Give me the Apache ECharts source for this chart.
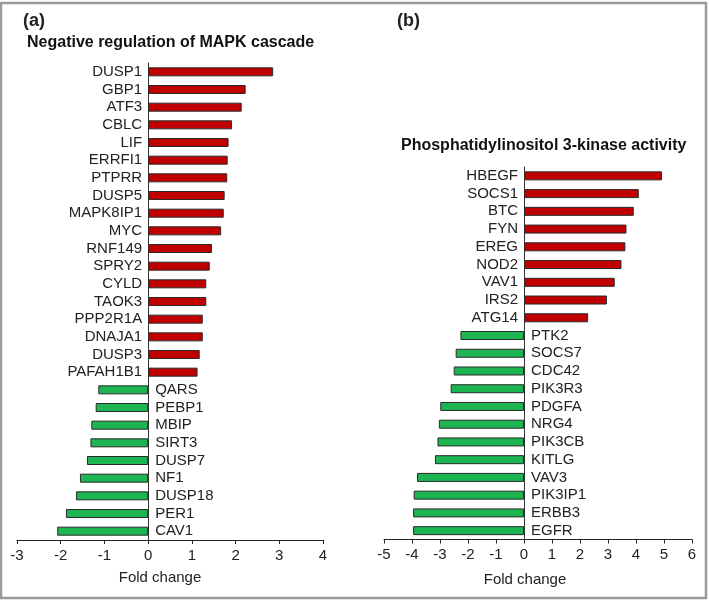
<!DOCTYPE html>
<html>
<head>
<meta charset="utf-8">
<script src="https://cdn.jsdelivr.net/npm/echarts@6/dist/echarts.min.js"></script>
<style>
html,body{margin:0;padding:0;background:#fff;}
#c{width:709px;height:600px;}
</style>
</head>
<body>
<div id="c"></div>
<script>
// Panel (a): Negative regulation of MAPK cascade
const genesA = ["DUSP1","GBP1","ATF3","CBLC","LIF","ERRFI1","PTPRR","DUSP5","MAPK8IP1","MYC","RNF149","SPRY2","CYLD","TAOK3","PPP2R1A","DNAJA1","DUSP3","PAFAH1B1","QARS","PEBP1","MBIP","SIRT3","DUSP7","NF1","DUSP18","PER1","CAV1"];
const foldA = [2.86,2.23,2.14,1.92,1.84,1.82,1.81,1.75,1.73,1.67,1.46,1.41,1.33,1.33,1.25,1.25,1.18,1.13,-1.14,-1.20,-1.30,-1.32,-1.40,-1.56,-1.65,-1.88,-2.08];
const ticksA = [-3,-2,-1,0,1,2,3,4];

// Panel (b): Phosphatidylinositol 3-kinase activity
const genesB = ["HBEGF","SOCS1","BTC","FYN","EREG","NOD2","VAV1","IRS2","ATG14","PTK2","SOCS7","CDC42","PIK3R3","PDGFA","NRG4","PIK3CB","KITLG","VAV3","PIK3IP1","ERBB3","EGFR"];
const foldB = [4.93,4.10,3.92,3.66,3.62,3.48,3.24,2.96,2.29,-2.27,-2.44,-2.51,-2.62,-2.99,-3.04,-3.09,-3.18,-3.82,-3.94,-3.96,-3.96];
const ticksB = [-5,-4,-3,-2,-1,0,1,2,3,4,5,6];

const FONT = "Liberation Sans, Arial, sans-serif";
const RED = "#c00000", GREEN = "#1db552";

function items(vals){
  return vals.map(v => ({
    value: v,
    itemStyle: {color: v >= 0 ? RED : GREEN},
    label: {position: v >= 0 ? 'left' : 'right', distance: v >= 0 ? 6 : 7}
  }));
}
function xAx(idx, ticks){
  return {
    type:'value', gridIndex: idx, min: ticks[0], max: ticks[ticks.length-1], interval: 1,
    splitLine:{show:false},
    axisLine:{show:true, onZero:false, lineStyle:{color:'#222', width:1}},
    axisTick:{show:true, length:4, lineStyle:{color:'#222'}},
    axisLabel:{color:'#222', fontSize:15, fontFamily:FONT, margin:8}
  };
}
function yAx(idx, cats){
  return {
    type:'category', gridIndex: idx, data: cats, inverse: true,
    axisLine:{show:true, onZero:true, lineStyle:{color:'#333', width:1}},
    axisTick:{show:false}, axisLabel:{show:false}
  };
}
function ser(idx, cats, vals){
  return {
    type:'bar', xAxisIndex: idx, yAxisIndex: idx, barWidth: 9,
    data: items(vals),
    itemStyle:{borderColor:'#2a2a2a', borderWidth:1},
    label:{show:true, color:'#222', fontSize:15, fontFamily:FONT,
      formatter: p => cats[p.dataIndex]},
    animation:false
  };
}

const chart = echarts.init(document.getElementById('c'));
chart.setOption({
  animation:false,
  grid:[
    {left:17, right:386, top:63, bottom:60},
    {left:384, right:17, top:167, bottom:60.5}
  ],
  xAxis:[xAx(0, ticksA), xAx(1, ticksB)],
  yAxis:[yAx(0, genesA), yAx(1, genesB)],
  series:[ser(0, genesA, foldA), ser(1, genesB, foldB)],
  graphic:[
    {type:'rect', shape:{x:1, y:3, width:705, height:595}, style:{fill:'none', stroke:'#9a9a9a', lineWidth:2.5}, silent:true},
    {type:'text', left:23, top:12, style:{text:'(a)', font:'bold 18px '+FONT, fill:'#222'}},
    {type:'text', left:27, top:35, style:{text:'Negative regulation of MAPK cascade', font:'bold 16px '+FONT, fill:'#111'}},
    {type:'text', x:160, y:578, style:{text:'Fold change', font:'15px '+FONT, fill:'#222', align:'center', verticalAlign:'middle'}},
    {type:'text', left:397, top:12, style:{text:'(b)', font:'bold 18px '+FONT, fill:'#222'}},
    {type:'text', left:401, top:138, style:{text:'Phosphatidylinositol 3-kinase activity', font:'bold 16px '+FONT, fill:'#111'}},
    {type:'text', x:525, y:580, style:{text:'Fold change', font:'15px '+FONT, fill:'#222', align:'center', verticalAlign:'middle'}}
  ]
});
</script>
</body>
</html>
